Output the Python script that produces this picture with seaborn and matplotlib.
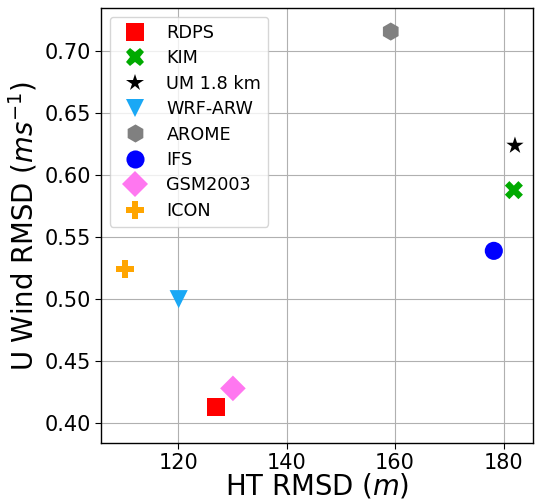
import matplotlib
matplotlib.use("Agg")
import matplotlib.pyplot as plt
import seaborn as sns
import pandas as pd

models = ["RDPS", "KIM", "UM 1.8 km", "WRF-ARW", "AROME", "IFS", "GSM2003", "ICON"]
ht_rmsd = [127.0, 181.9, 182.1, 120.1, 159.2, 178.2, 130.1, 110.2]
u_rmsd = [0.413, 0.588, 0.624, 0.500, 0.716, 0.539, 0.428, 0.524]
colors = ["#ff0000", "#00aa00", "#000000", "#1aa8f5", "#808080", "#0000ff", "#ff77f0", "#ffa500"]
markers = ["s", "X", "*", "v", "h", "o", "D", "P"]

df = pd.DataFrame({"model": models, "ht": ht_rmsd, "u": u_rmsd})

sns.set_style("ticks")
plt.rcParams['font.family'] = ['DejaVu Sans']
plt.rcParams['text.color'] = 'black'

fig, ax = plt.subplots(figsize=(5.35, 5.01), dpi=100)
fig.subplots_adjust(left=0.189, right=0.996, top=0.984, bottom=0.116)

sns.scatterplot(data=df, x="ht", y="u", hue="model", style="model",
                palette=dict(zip(models, colors)), markers=dict(zip(models, markers)),
                hue_order=models, style_order=models,
                s=170, linewidth=0, ax=ax, zorder=3)

ax.set_xlim(105.8, 185.4)
ax.set_ylim(0.384, 0.735)
ax.set_xticks([120, 140, 160, 180])
ax.set_yticks([0.40, 0.45, 0.50, 0.55, 0.60, 0.65, 0.70])
ax.set_yticklabels(["0.40", "0.45", "0.50", "0.55", "0.60", "0.65", "0.70"])
ax.grid(True, color="#b0b0b0", linewidth=0.8)
ax.set_axisbelow(True)
for sp in ax.spines.values():
    sp.set_color("black")
    sp.set_linewidth(1.0)
ax.tick_params(labelsize=15, length=4, color="black", labelcolor="black", pad=3)
ax.set_xlabel("HT RMSD ($m$)", fontsize=19.8, color="black", labelpad=-0.5)
ax.set_ylabel("U Wind RMSD ($ms^{-1}$)", fontsize=19.8, color="black", labelpad=4)

handles, labels = ax.get_legend_handles_labels()
leg = ax.legend(handles, labels, loc="upper left", fontsize=12.7, labelspacing=0.42,
                borderaxespad=0.5, frameon=True)
for t in leg.get_texts():
    t.set_color("black")

fig.savefig("out.png", dpi=100)
